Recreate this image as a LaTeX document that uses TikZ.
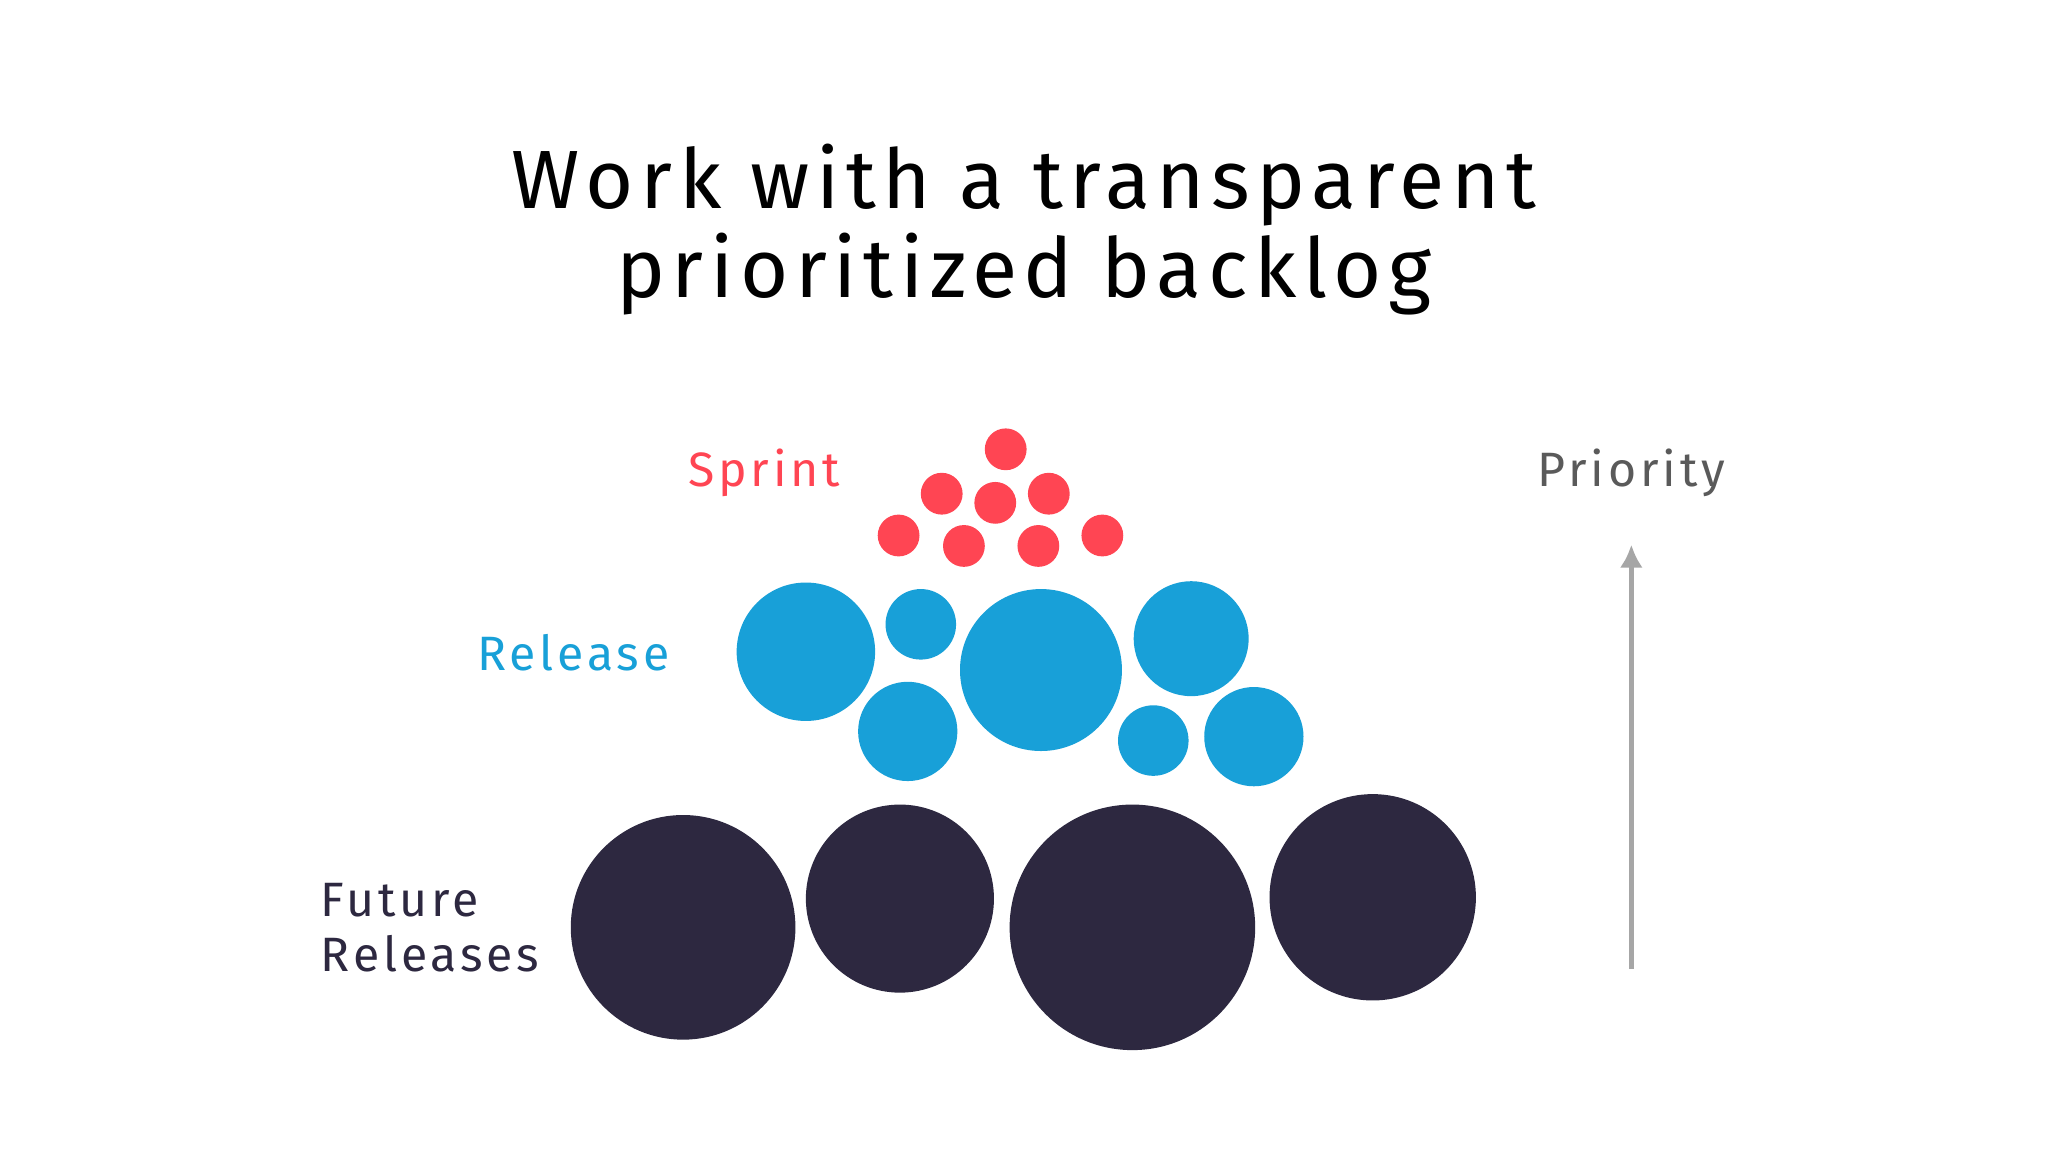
\documentclass[tikz,border=0pt]{standalone}
\usepackage{fontspec}
\usetikzlibrary{arrows.meta}
\setmainfont{Fira Sans}
\definecolor{sred}{HTML}{FF4553}
\definecolor{rblue}{HTML}{18A0D8}
\definecolor{fdark}{HTML}{2D2840}
\definecolor{pgray}{HTML}{5A5A5A}
\begin{document}
\begin{tikzpicture}[x=0.01cm,y=-0.01cm,
  lbl/.style={inner sep=0, font=\fontsize{10.5}{13}\selectfont\addfontfeatures{LetterSpace=8}},
  spr/.style={fill=sred},
  rel/.style={fill=rblue},
  fut/.style={fill=fdark}]
\useasboundingbox (0,0) rectangle (1568,882);
\fill[white] (0,0) rectangle (1568,882);
\node[inner sep=0, align=center, font=\fontsize{18}{19.4}\selectfont\addfontfeatures{LetterSpace=8}] (title) at (784,176) {Work with a transparent\\prioritized backlog};
\node[lbl, text=sred] (sprint) at (585,362) {Sprint};
\node[lbl, text=rblue] (release) at (439,500) {Release};
\node[lbl, text=fdark, align=left, anchor=west, font=\fontsize{10.5}{12}\selectfont\addfontfeatures{LetterSpace=8}] (future) at (245,710) {Future\\Releases};
\node[lbl, text=pgray] (priority) at (1249,362) {Priority};
\foreach \x/\y in {770/344,721/378,762/385,803/378,688/410,738/418,795/418,844/410}
  \fill[spr] (\x,\y) circle (16);
\foreach \x/\y/\r in {617/499/53,705/478/27,797/513/62,912/489/44,695/560/38,883/567/27,960/564/38}
  \fill[rel] (\x,\y) circle (\r);
\foreach \x/\y/\r in {523/710/86,689/688/72,867/710/94,1051/687/79}
  \fill[fut] (\x,\y) circle (\r);
\coordinate (abot) at (1249,742);
\coordinate (atop) at (1249,417);
\draw[gray!70, line width=1.2pt, -{Latex[length=5pt,width=5pt]}] (abot) -- (atop);
\end{tikzpicture}
\end{document}
